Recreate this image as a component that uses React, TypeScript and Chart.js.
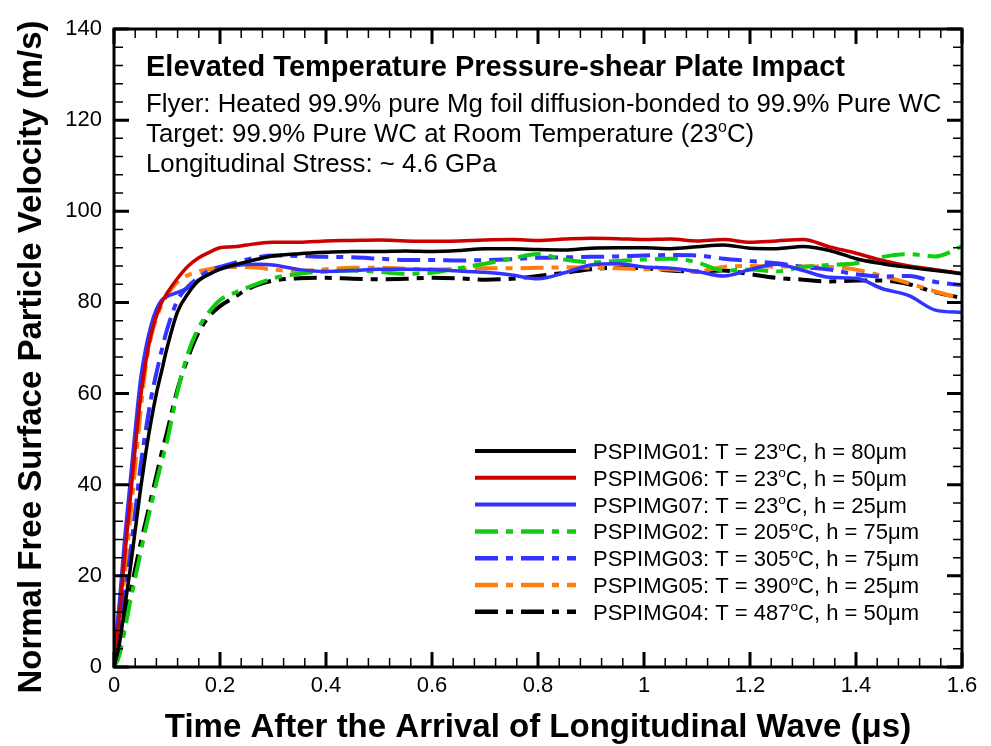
import React, { useEffect, useRef } from "react";
import { Chart, registerables } from "chart.js";

Chart.register(...registerables);

const FONT = "'Liberation Sans', Arial, Helvetica, sans-serif";

const times = [0, 0.01, 0.02, 0.03, 0.04, 0.05, 0.06, 0.07, 0.08, 0.09, 0.1, 0.12, 0.14, 0.16, 0.18, 0.2, 0.225, 0.25, 0.275, 0.3, 0.35, 0.4, 0.45, 0.5, 0.55, 0.6, 0.65, 0.7, 0.75, 0.8, 0.85, 0.9, 0.95, 1.0, 1.05, 1.1, 1.15, 1.2, 1.25, 1.3, 1.35, 1.4, 1.45, 1.5, 1.55, 1.6];

const pspimg01 = [0, 5, 13, 21, 30, 39, 47, 54, 60, 65, 70, 78, 82, 84.8, 86.2, 87.3, 88.2, 88.9, 89.6, 90.2, 90.7, 91, 91.2, 91.2, 91.3, 91.2, 91.4, 91.8, 91.8, 91.6, 91.5, 91.9, 92, 92, 91.8, 92.2, 92.6, 91.9, 91.8, 92.3, 91.4, 89.6, 88.5, 87.7, 87, 86.3];
const pspimg06 = [1, 11, 24, 36, 48, 59, 67, 73, 77, 80, 82, 85.3, 88, 89.8, 91, 92, 92.2, 92.6, 93, 93.2, 93.2, 93.5, 93.6, 93.7, 93.5, 93.4, 93.5, 93.7, 93.8, 93.6, 93.9, 94.1, 94, 93.8, 93.9, 93.5, 93.8, 93.2, 93.5, 93.8, 92.2, 90.8, 89.2, 88, 87.2, 86.3];
const pspimg07 = [2, 14, 28, 40, 52, 63, 70, 75, 78.5, 80.5, 81.3, 82.2, 83.2, 85, 86.3, 87.3, 88, 88.3, 88.4, 88.2, 87.2, 86.8, 87, 87.3, 87.3, 87.2, 86.9, 86.6, 86, 85.2, 86.5, 88.2, 88.5, 87.8, 87.5, 86.8, 85.8, 87.2, 88.4, 87, 85.5, 85.3, 83, 81.5, 78.3, 77.8];
const pspimg02 = [0, 2.5, 8, 14, 19.5, 25, 30.5, 35.5, 40.5, 45, 49.5, 60.5, 69, 74.5, 78, 80.5, 82, 83.2, 84.3, 85.3, 86.3, 86.8, 87, 86.7, 86.3, 86.5, 87.5, 88.5, 89.6, 90.6, 89.4, 88.8, 89.1, 89.4, 89.6, 88.8, 87, 87.2, 86.8, 87.8, 88.2, 88.6, 90, 90.6, 90.1, 92.3];
const pspimg03 = [2, 8, 16, 24, 34, 44, 52, 59, 64.5, 69.5, 74, 80.5, 83.5, 85.5, 87, 87.8, 88.6, 89.4, 90, 90.3, 90.2, 90, 89.9, 89.6, 89.3, 89.3, 89.2, 89.3, 89.5, 89.8, 89.9, 90, 90.1, 90.3, 90.4, 90.3, 89.6, 89.1, 88.6, 87.8, 87.2, 86.2, 85.7, 85.8, 84.5, 83.8];
const pspimg05 = [1, 9, 20, 32, 44, 56, 66, 72.5, 76.5, 79.5, 81.5, 84.5, 86, 86.8, 87.3, 87.7, 87.8, 87.8, 87.6, 87.2, 86.9, 87.3, 87.6, 87.6, 87.4, 87.2, 87.4, 87.5, 87.5, 87.6, 87.7, 87.6, 87.5, 87.3, 87.2, 86.8, 87.8, 88, 87.9, 87.9, 87.8, 87.2, 85.8, 84.2, 82.4, 80.8];
const pspimg04 = [0, 4, 10, 16, 21.5, 27, 32, 37, 42, 47, 51.5, 61, 68, 73.5, 77, 79.2, 81, 82.8, 84, 84.8, 85.3, 85.4, 85.2, 85.1, 85.2, 85.4, 85.3, 85, 85.2, 85.8, 86.5, 87.3, 87.6, 87.5, 87, 86.8, 87, 86.2, 85.4, 85, 84.6, 84.8, 84.8, 84, 82.2, 81];

const seriesValues = [pspimg01, pspimg06, pspimg07, pspimg02, pspimg03, pspimg05, pspimg04];
const seriesIds = ["PSPIMG01", "PSPIMG06", "PSPIMG07", "PSPIMG02", "PSPIMG03", "PSPIMG05", "PSPIMG04"];
const seriesTemps = ["23", "23", "23", "205", "305", "390", "487"];
const seriesThickness = ["80", "50", "25", "75", "75", "25", "50"];
const seriesColors = ["#000000", "#cc0000", "#3333ff", "#11cc11", "#3333ff", "#ff7f0e", "#000000"];
const seriesDashed = [false, false, false, true, true, true, true];

const xMajorTicks = [0, 0.2, 0.4, 0.6, 0.8, 1, 1.2, 1.4, 1.6];
const yMajorTicks = [0, 20, 40, 60, 80, 100, 120, 140];
const xMinorStep = 0.04;
const yMinorStep = 4;

const annotationLines = [
  "Elevated Temperature Pressure-shear Plate Impact",
  "Flyer: Heated 99.9% pure Mg foil diffusion-bonded to 99.9% Pure WC",
  "Target: 99.9% Pure WC at Room Temperature (23°C)",
  "Longitudinal Stress: ~ 4.6 GPa",
];
const xTitle = "Time After the Arrival of Longitudinal Wave (μs)";
const yTitle = "Normal Free Surface Particle Velocity (m/s)";

const DASH = [23, 8, 7, 8];

function drawRich(ctx: CanvasRenderingContext2D, text: string, x: number, y: number, size: number, bold: boolean) {
  const parts = text.split("°");
  let cx = x;
  parts.forEach((p, i) => {
    if (i > 0) {
      const ss = size * 0.62;
      ctx.font = `${bold ? "bold " : ""}${ss}px ${FONT}`;
      ctx.fillText("o", cx, y - size * 0.38);
      cx += ctx.measureText("o").width;
    }
    ctx.font = `${bold ? "bold " : ""}${size}px ${FONT}`;
    ctx.fillText(p, cx, y);
    cx += ctx.measureText(p).width;
  });
}

const decorPlugin = {
  id: "decor",
  afterDraw(chart: any) {
    const { ctx, chartArea: a, scales } = chart;
    const xs = scales.x;
    const ys = scales.y;
    ctx.save();
    ctx.strokeStyle = "#000";
    ctx.lineCap = "butt";
    // minor ticks
    ctx.lineWidth = 1.5;
    const nx = Math.round((xs.max - xs.min) / xMinorStep);
    for (let i = 0; i <= nx; i++) {
      const px = xs.getPixelForValue(xs.min + i * xMinorStep);
      ctx.beginPath();
      ctx.moveTo(px, a.bottom);
      ctx.lineTo(px, a.bottom - 9);
      ctx.moveTo(px, a.top);
      ctx.lineTo(px, a.top + 9);
      ctx.stroke();
    }
    const ny = Math.round((ys.max - ys.min) / yMinorStep);
    for (let i = 0; i <= ny; i++) {
      const py = ys.getPixelForValue(ys.min + i * yMinorStep);
      ctx.beginPath();
      ctx.moveTo(a.left, py);
      ctx.lineTo(a.left + 9, py);
      ctx.moveTo(a.right, py);
      ctx.lineTo(a.right - 9, py);
      ctx.stroke();
    }
    // major ticks
    ctx.lineWidth = 3;
    xMajorTicks.forEach((v) => {
      const px = xs.getPixelForValue(v);
      ctx.beginPath();
      ctx.moveTo(px, a.bottom);
      ctx.lineTo(px, a.bottom - 15);
      ctx.moveTo(px, a.top);
      ctx.lineTo(px, a.top + 15);
      ctx.stroke();
    });
    yMajorTicks.forEach((v) => {
      const py = ys.getPixelForValue(v);
      ctx.beginPath();
      ctx.moveTo(a.left, py);
      ctx.lineTo(a.left + 15, py);
      ctx.moveTo(a.right, py);
      ctx.lineTo(a.right - 15, py);
      ctx.stroke();
    });
    // frame
    ctx.lineWidth = 3;
    ctx.strokeRect(a.left, a.top, a.right - a.left, a.bottom - a.top);

    // annotation text
    ctx.fillStyle = "#000";
    ctx.textAlign = "left";
    ctx.textBaseline = "alphabetic";
    const ax = a.left + 32;
    drawRich(ctx, annotationLines[0], ax, 76, 29, true);
    drawRich(ctx, annotationLines[1], ax, 112, 25.8, false);
    drawRich(ctx, annotationLines[2], ax, 142, 25.8, false);
    drawRich(ctx, annotationLines[3], ax, 172, 25.8, false);

    // legend
    const lx0 = 475;
    const lx1 = 576;
    const ly0 = 451;
    const lstep = 26.8;
    seriesIds.forEach((id, i) => {
      const y = ly0 + i * lstep;
      ctx.save();
      ctx.strokeStyle = seriesColors[i];
      ctx.lineWidth = seriesDashed[i] ? 4.5 : 4;
      ctx.setLineDash(seriesDashed[i] ? DASH : []);
      ctx.beginPath();
      ctx.moveTo(lx0, y);
      ctx.lineTo(lx1, y);
      ctx.stroke();
      ctx.restore();
      ctx.fillStyle = "#000";
      drawRich(ctx, `${id}: T = ${seriesTemps[i]}°C, h = ${seriesThickness[i]}μm`, 593, y + 8, 22, false);
    });

    // axis titles
    ctx.font = `bold 33px ${FONT}`;
    ctx.textAlign = "center";
    ctx.fillText(xTitle, (a.left + a.right) / 2, 737);
    ctx.save();
    ctx.translate(41, (a.top + a.bottom) / 2 + 9);
    ctx.rotate(-Math.PI / 2);
    ctx.font = `bold 33px ${FONT}`;
    ctx.fillText(yTitle, 0, 0);
    ctx.restore();
    ctx.restore();
  },
};

export default function App() {
  const ref = useRef<HTMLCanvasElement | null>(null);
  useEffect(() => {
    if (!ref.current) return;
    const datasets = seriesValues.map((vals, i) => ({
      label: seriesIds[i],
      data: vals.map((v, j) => ({ x: times[j], y: v })),
      borderColor: seriesColors[i],
      backgroundColor: seriesColors[i],
      borderWidth: seriesDashed[i] ? 4 : 3.5,
      borderDash: seriesDashed[i] ? DASH : [],
      pointRadius: 0,
      tension: 0.35,
      cubicInterpolationMode: "monotone" as const,
      fill: false,
    }));
    const chart = new Chart(ref.current, {
      type: "line",
      data: { datasets },
      options: {
        animation: false,
        responsive: false,
        layout: { padding: { left: 0, right: 29, top: 29, bottom: 0 } },
        plugins: { legend: { display: false }, tooltip: { enabled: false } },
        scales: {
          x: {
            type: "linear",
            min: 0,
            max: 1.6,
            grid: { display: false, drawTicks: false },
            border: { display: false },
            ticks: {
              stepSize: 0.2,
              padding: 6,
              color: "#000",
              font: { family: FONT, size: 22 },
              callback: (v: any) => String(Math.round(Number(v) * 10) / 10),
            },
            afterFit: (s: any) => {
              s.height = 79;
            },
          },
          y: {
            type: "linear",
            min: 0,
            max: 140,
            grid: { display: false, drawTicks: false },
            border: { display: false },
            ticks: {
              stepSize: 20,
              padding: 12,
              color: "#000",
              font: { family: FONT, size: 22 },
            },
            afterFit: (s: any) => {
              s.width = 114;
            },
          },
        },
      },
      plugins: [decorPlugin],
    });
    return () => chart.destroy();
  }, []);
  return (
    <div style={{ position: "absolute", left: 0, top: 0, width: 991, height: 746, background: "#fff" }}>
      <canvas ref={ref} width={991} height={746} />
    </div>
  );
}
